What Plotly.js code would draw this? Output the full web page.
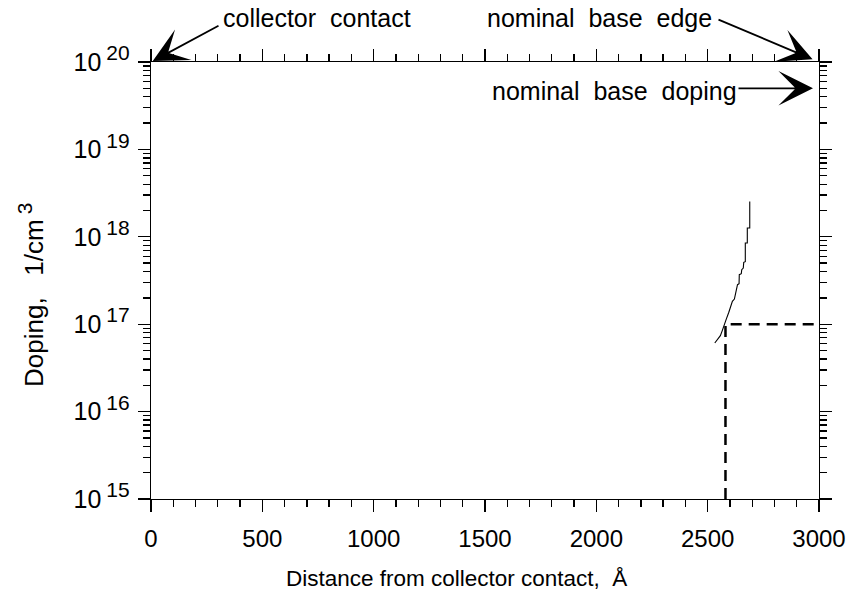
<!DOCTYPE html>
<html>
<head>
<meta charset="utf-8">
<script src="https://cdn.plot.ly/plotly-3.0.1.min.js"></script>
<style>
  html, body { margin: 0; padding: 0; background: #fff; }
  #chart { width: 846px; height: 591px; }
</style>
</head>
<body>
<div id="chart"></div>
<script>
// Simulated doping profile near the base: distance (Å) and doping (1/cm^3)
const profileX = [2532, 2544, 2557, 2566, 2574, 2584, 2595, 2604, 2611, 2620, 2626, 2634,
                  2641, 2642, 2651, 2653, 2660, 2662, 2669, 2669, 2678, 2678, 2689, 2689];
const profileDoping = [6.1e16, 6.65e16, 7.4e16, 8.5e16, 9.9e16, 1.15e17, 1.37e17, 1.63e17,
                       1.83e17, 1.94e17, 2.31e17, 2.83e17, 2.9e17, 3.69e17, 3.78e17, 4.2e17,
                       4.39e17, 5.1e17, 5.19e17, 8.5e17, 8.5e17, 1.26e18, 1.26e18, 2.54e18];

// Nominal (designed) profile: base edge position and doping step
const nominalX = [2580, 2580, 3000];
const nominalDoping = [1e15, 1e17, 1e17];

// Reference points called out by the labels
const collectorContactX = 0;
const baseEdgeX = 3000;
const nominalBaseDoping = 5e19;
const topDoping = 1e20;

// Axis ticks
const xTickVals = [0, 500, 1000, 1500, 2000, 2500, 3000];
const yTickVals = [1e15, 1e16, 1e17, 1e18, 1e19, 1e20];
const yExponents = ['15', '16', '17', '18', '19', '20'];
const yTickText = yExponents.map(e => '10\u2009<sup><span style="font-size:21px">' + e + '</span></sup>');

const FONT = 'Liberation Sans, Arial, Helvetica, sans-serif';
const NB = '\u00A0';

const traces = [
  {
    x: profileX, y: profileDoping, type: 'scatter', mode: 'lines',
    line: { color: '#000', width: 1.1 }, hoverinfo: 'skip'
  },
  {
    x: nominalX, y: nominalDoping, type: 'scatter', mode: 'lines',
    line: { color: '#000', width: 2.5, dash: '11px,7px' }, hoverinfo: 'skip'
  }
];

const axisCommon = {
  showline: true, linecolor: '#000', linewidth: 1.3,
  mirror: 'ticks', ticks: 'outside', ticklen: 12, tickwidth: 1.3, tickcolor: '#000',
  showgrid: false, zeroline: false,
  tickfont: { family: FONT, size: 24, color: '#000' }
};

const arrowStyle = {
  showarrow: true, arrowhead: 3, arrowsize: 3.2, arrowwidth: 1.8, arrowcolor: '#000',
  text: '', axref: 'pixel', ayref: 'pixel'
};

const layout = {
  width: 846, height: 591,
  margin: { l: 151, r: 27, t: 62, b: 92 },
  paper_bgcolor: '#fff', plot_bgcolor: '#fff',
  showlegend: false,
  font: { family: FONT, size: 24, color: '#000' },
  xaxis: Object.assign({}, axisCommon, {
    range: [0, 3000], tickvals: xTickVals,
    ticklabelstandoff: 6,
    minor: { ticks: 'outside', ticklen: 7, tickwidth: 1.3, tickcolor: '#000', dtick: 100, showgrid: false }
  }),
  yaxis: Object.assign({}, axisCommon, {
    type: 'log', range: [15, 20], tickvals: yTickVals, ticktext: yTickText,
    tickfont: { family: FONT, size: 25, color: '#000' },
    ticklabelstandoff: 3,
    minor: { ticks: 'outside', ticklen: 7, tickwidth: 1.3, tickcolor: '#000', dtick: 'D1', showgrid: false }
  }),
  annotations: [
    // axis titles
    { text: 'Distance from collector contact,' + NB + ' Å', showarrow: false, xref: 'paper', yref: 'paper',
      x: (456 - 151) / 668, y: (499 - 578) / 437, xanchor: 'center', yanchor: 'middle',
      font: { family: FONT, size: 22.5, color: '#000' } },
    { text: 'Doping,' + NB + NB + ' 1/cm\u2009<sup><span style="font-size:21px">3</span></sup>', showarrow: false,
      textangle: -90, xref: 'paper', yref: 'paper',
      x: (31 - 151) / 668, y: (499 - 295) / 437, xanchor: 'center', yanchor: 'middle',
      font: { family: FONT, size: 26, color: '#000' } },
    // arrows
    Object.assign({}, arrowStyle, { x: collectorContactX, y: Math.log10(topDoping), xref: 'x', yref: 'y', ax: 69, ay: -37, standoff: 2 }),
    Object.assign({}, arrowStyle, { x: baseEdgeX, y: Math.log10(topDoping), xref: 'x', yref: 'y', ax: -102, ay: -43, standoff: 7 }),
    Object.assign({}, arrowStyle, { x: baseEdgeX, y: Math.log10(nominalBaseDoping), xref: 'x', yref: 'y', ax: -82, ay: 0, standoff: 6 }),
    // callout labels
    { text: 'collector' + NB + ' contact', showarrow: false, xref: 'paper', yref: 'paper',
      x: (221 - 151) / 668, y: (499 - 18) / 437, xanchor: 'left', yanchor: 'middle',
      font: { family: FONT, size: 25, color: '#000' } },
    { text: 'nominal' + NB + ' base' + NB + ' edge', showarrow: false, xref: 'paper', yref: 'paper',
      x: (485 - 151) / 668, y: (499 - 18) / 437, xanchor: 'left', yanchor: 'middle',
      font: { family: FONT, size: 25, color: '#000' } },
    { text: 'nominal' + NB + ' base' + NB + ' doping', showarrow: false, xref: 'paper', yref: 'paper',
      x: (490 - 151) / 668, y: (499 - 91) / 437, xanchor: 'left', yanchor: 'middle',
      font: { family: FONT, size: 25, color: '#000' } }
  ]
};

Plotly.newPlot('chart', traces, layout, { staticPlot: true, displayModeBar: false });
</script>
</body>
</html>
